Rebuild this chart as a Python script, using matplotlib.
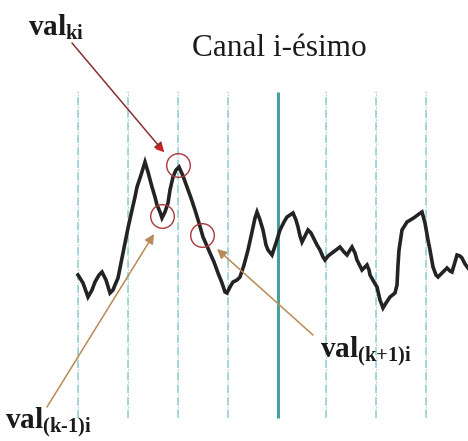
import matplotlib
matplotlib.use("Agg")
import matplotlib.pyplot as plt

plt.rcParams['mathtext.fontset'] = 'custom'
plt.rcParams['mathtext.rm'] = 'Liberation Serif'
plt.rcParams['mathtext.bf'] = 'Liberation Serif:bold'
plt.rcParams['mathtext.it'] = 'Liberation Serif:italic'

# ---- data ----
samples = [0, 5, 10, 14, 17, 21, 24, 28, 32, 35, 37, 40, 43, 47, 50, 54, 57, 59, 63, 67,
           70, 74, 77, 79, 82, 84, 87, 90, 92, 95, 98, 101, 105, 109, 113, 117, 121, 125, 129, 132,
           136, 140, 144, 147, 149, 152, 155, 159, 162, 166, 170, 174, 177, 179, 182, 185, 188, 190, 194, 198,
           202, 206, 209, 215, 218, 220, 222, 224, 227, 230, 233, 235, 239, 242, 245, 247, 250, 254, 258, 262,
           266, 269, 272, 274, 277, 279, 282, 284, 287, 289, 291, 292, 296, 299, 302, 305, 308, 312, 317, 319,
           320, 321, 324, 329, 334, 337, 341, 344, 347, 350, 352, 355, 358, 360, 363, 365, 369, 372, 374, 377,
           379, 382, 384, 387, 390]
amplitude = [35, 27, 13, 20, 28, 35, 38, 30, 17, 20, 25, 32, 47, 67, 82, 100, 113, 123, 135, 148,
             138, 123, 113, 105, 98, 92, 98, 107, 120, 133, 140, 143, 134, 123, 112, 100, 87, 73, 64, 57,
             48, 37, 27, 18, 17, 23, 28, 30, 33, 45, 60, 78, 92, 98, 90, 80, 65, 60, 55, 67,
             80, 88, 93, 97, 90, 83, 74, 68, 74, 80, 77, 73, 65, 60, 53, 50, 54, 57, 60, 63,
             58, 55, 60, 63, 57, 50, 44, 40, 43, 45, 40, 35, 28, 23, 10, 2, 7, 13, 17, 25,
             45, 60, 80, 88, 91, 93, 96, 98, 87, 70, 60, 43, 35, 33, 36, 38, 42, 39, 38, 48,
             55, 54, 52, 46, 42]

channel_bounds = [0, 50, 100, 150, 200, 248, 298, 348]
bold_bound = 200

# highlighted samples: val_(k-1)i, val_ki, val_(k+1)i
circ_x = [84, 100, 124]
circ_y = [94, 145, 75]

title = "Canal i-ésimo"
lbl_ki = r'$\mathbf{val_{ki}}$'
lbl_km1 = r'$\mathbf{val_{(k\text{-}1)i}}$'
lbl_kp1 = r'$\mathbf{val_{(k{+}1)i}}$'

# ---- figure ----
fig = plt.figure(figsize=(4.68, 4.41), dpi=100)
ax = fig.add_axes([0, 0, 1, 1])
ax.set_xlim(-78, 390)
ax.set_ylim(-131, 310)
ax.axis('off')

for b in channel_bounds:
    if b == bold_bound:
        ax.plot([b, b], [-108, 218], color='#4a9f9f', lw=2.2, solid_capstyle='butt')
    else:
        ax.plot([b, b], [-108, 218], color='#96d2d3', lw=1.2, linestyle=(0, (5, 2.5)))
        ax.plot([b, b], [-108, 218], color='#b0bad8', lw=0.6, linestyle=(3, (2, 5.5)))

ax.plot(samples, amplitude, color='#232323', lw=2.6, solid_joinstyle='miter')

ax.plot(circ_x, circ_y, 'o', ms=17, mfc='none', mec='#a8383a', mew=1.0)

ax.text(201, 262, title, ha='center', va='center', fontsize=22.5,
        family='Liberation Serif', color='#1a1a1a')

ax.text(-50, 274, lbl_ki, ha='left', va='baseline', fontsize=21, color='#1a1a1a')
ax.text(242, -47, lbl_kp1, ha='left', va='baseline', fontsize=21, color='#1a1a1a')
ax.text(-73, -118, lbl_km1, ha='left', va='baseline', fontsize=21, color='#1a1a1a')

# arrows
ax.annotate('', xy=(86, 158), xytext=(-6, 267),
            arrowprops=dict(arrowstyle='-|>', color='#8a2f2f', lw=1.1,
                            mutation_scale=14, shrinkA=0, shrinkB=0))
ax.annotate('', xy=(86, 158), xytext=(80, 164),
            arrowprops=dict(arrowstyle='-|>', color='#d41f1f', lw=0.1,
                            mutation_scale=14, shrinkA=0, shrinkB=0))
ax.annotate('', xy=(76, 76), xytext=(-31, -97),
            arrowprops=dict(arrowstyle='-|>', color='#b98a55', lw=1.1,
                            mutation_scale=14, shrinkA=0, shrinkB=0))
ax.annotate('', xy=(139, 61), xytext=(235, -25),
            arrowprops=dict(arrowstyle='-|>', color='#b98a55', lw=1.1,
                            mutation_scale=14, shrinkA=0, shrinkB=0))

fig.savefig('out.png', dpi=100, facecolor='white')
